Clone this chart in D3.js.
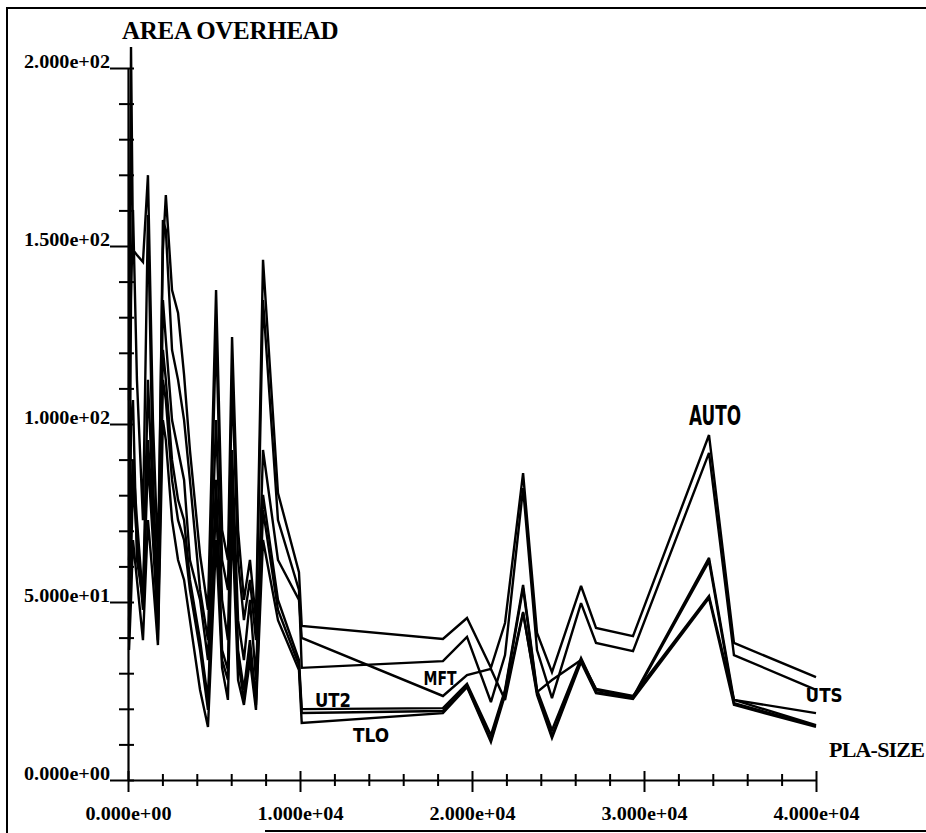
<!DOCTYPE html>
<html><head><meta charset="utf-8">
<script src="https://cdn.jsdelivr.net/npm/d3@7"></script>
<style>body{margin:0;background:#fff} svg{display:block}</style>
</head><body><svg id="c" width="926" height="833"></svg>
<script>
// ---- data ----
const plaSize = [60,175,290,520,870,1160,1450,1740,2030,2200,2560,2910,3260,3600,4190,4650,5120,5470,5810,6050,6400,6740,7090,7440,7850,8720,9940,
  10100,18310,19710,21100,21920,22970,23780,24650,26340,27210,29360,33780,35230,40000];
const AUTO = [106.7,205.9,148.9,147.5,145.5,169.9,101.1,61.8,148.9,164.3,137.6,131.2,113.8,92.7,63.2,47.8,137.6,70.2,61.8,124.4,70.2,50.6,61.8,44.9,146.1,80.6,58.4,
  43.3,39.6,45.5,31.5,44.1,86.2,41.3,30.3,54.5,42.7,40.4,96.9,38.5,28.9];
const UTS = [50.6,134.8,160.1,112.4,73.0,158.7,84.3,50.6,157.3,154.5,120.8,112.4,101.1,84.3,53.4,39.3,126.4,61.8,53.4,112.4,61.8,44.9,56.2,39.3,134.8,73.0,53.4,
  31.5,33.4,40.2,21.9,35.1,82.0,36.5,23.0,49.7,38.5,36.2,91.9,35.1,25.3];
const MFT = [39.3,101.1,106.7,61.8,50.6,112.4,78.7,39.3,134.8,123.6,101.1,92.7,84.3,61.8,50.6,33.7,101.1,50.6,39.3,92.7,44.9,33.7,50.6,28.1,92.7,61.8,50.6,
  39.9,23.6,29.5,31.2,22.5,46.9,24.7,28.1,33.7,25.6,23.6,51.7,22.5,18.8];
const UT2 = [61.8,78.7,89.9,73.0,50.6,95.5,73.0,44.9,120.8,112.4,89.9,78.7,73.0,56.2,39.3,22.5,84.3,36.5,30.9,84.3,36.5,25.3,39.3,22.5,80.1,50.6,33.7,
  19.9,20.2,27.0,12.6,25.3,54.8,25.3,14.0,34.3,25.3,23.3,62.4,22.5,15.4];
const UNLABELED = [44.9,61.8,84.3,67.4,47.8,89.9,67.4,42.1,112.4,106.7,84.3,73.0,67.4,53.4,36.5,19.7,78.7,33.7,28.1,78.7,33.7,22.5,36.5,21.1,75.8,47.8,32.3,
  18.8,19.4,26.4,11.2,24.7,53.9,24.7,12.4,33.7,24.7,23.0,61.5,21.6,15.2];
const TLO = [36.5,50.6,67.4,56.2,39.3,73.0,56.2,37.9,101.1,95.5,73.0,61.8,56.2,44.9,25.3,14.9,67.4,31.5,22.5,73.0,28.1,21.1,33.7,19.7,67.4,44.9,30.9,
  16.0,18.8,26.1,10.7,23.9,47.2,23.9,11.8,33.1,24.4,22.8,51.1,21.1,14.9];

const yTickValues = [0, 50, 100, 150, 200];
const yTickLabels = ["0.000e+00","5.000e+01","1.000e+02","1.500e+02","2.000e+02"];
const xTickValues = [0, 10000, 20000, 30000, 40000];
const xTickLabels = ["0.000e+00","1.000e+04","2.000e+04","3.000e+04","4.000e+04"];
const seriesNames = ["AUTO","UTS","MFT","UT2","TLO"];
const labelAnchors = [[34130,102.5],[40470,23.9],[18140,28.7],[11920,22.5],[14130,12.6]];

const series = [AUTO, UTS, MFT, UT2, UNLABELED, TLO];

// ---- drawing ----
const svg = d3.select("#c");
const x = d3.scaleLinear().domain([0, 40000]).range([128, 816]);
const y = d3.scaleLinear().domain([0, 200]).range([780, 68]);
const serif = "'Liberation Serif','DejaVu Serif',serif";
const narrow = "'Liberation Sans Narrow','DejaVu Sans Condensed',sans-serif";

// page frame (scan border)
svg.append("path").attr("d","M7,833 L7,8 L926,8").attr("fill","none").attr("stroke","#000").attr("stroke-width",2);
svg.append("line").attr("x1",265).attr("x2",926).attr("y1",831).attr("y2",831).attr("stroke","#000").attr("stroke-width",2);

// lines
const line = d3.line().x((d,i)=>x(plaSize[i])).y(d=>y(d));
svg.append("g").selectAll("path").data(series).join("path")
  .attr("d", d=>line(d)).attr("fill","none").attr("stroke","#000")
  .attr("stroke-width",2.4).attr("stroke-linejoin","miter").attr("stroke-miterlimit",3);

// y axis
const gy = svg.append("g").attr("transform",`translate(${x(0)},0)`);
gy.call(d3.axisLeft(y).tickValues(d3.range(0,201,10).filter(d=>d%50)).tickSize(9).tickFormat("").tickSizeOuter(0));
gy.selectAll(".tick line").attr("x1",6).attr("stroke-width",2);
gy.select(".domain").attr("stroke-width",2.2);
const gy2 = svg.append("g").attr("transform",`translate(${x(0)},0)`);
gy2.call(d3.axisLeft(y).tickValues(yTickValues).tickSize(18).tickPadding(0)
  .tickFormat((d,i)=>yTickLabels[i]).tickSizeOuter(0));
gy2.select(".domain").remove();
gy2.selectAll(".tick line").attr("x1",6).attr("stroke-width",2);
gy2.selectAll(".tick text").attr("x",-18).attr("dy","-1").attr("font-family",serif)
  .attr("font-weight","bold").attr("font-size",19).attr("fill","#000")
  .attr("textLength",86).attr("lengthAdjust","spacingAndGlyphs");

// x axis
const gx = svg.append("g").attr("transform",`translate(0,${y(0)})`);
gx.call(d3.axisBottom(x).tickValues(d3.range(0,40001,2000).filter(d=>d%10000)).tickSize(6).tickFormat("").tickSizeOuter(0));
gx.selectAll(".tick line").attr("y1",-6).attr("stroke-width",2);
gx.select(".domain").attr("stroke-width",2.2);
const gx2 = svg.append("g").attr("transform",`translate(0,${y(0)})`);
gx2.call(d3.axisBottom(x).tickValues(xTickValues).tickSize(12).tickFormat((d,i)=>xTickLabels[i]).tickSizeOuter(0));
gx2.select(".domain").remove();
gx2.selectAll(".tick line").attr("y1",-9).attr("stroke-width",2);
gx2.selectAll(".tick text").attr("y",40).attr("dy","0").attr("font-family",serif)
  .attr("font-weight","bold").attr("font-size",19).attr("fill","#000")
  .attr("textLength",86).attr("lengthAdjust","spacingAndGlyphs");

// titles
svg.append("text").attr("x",122).attr("y",39).text("AREA OVERHEAD")
  .attr("font-family",serif).attr("font-weight","bold").attr("font-size",25).attr("letter-spacing","-0.3");
svg.append("text").attr("x",829).attr("y",757).text("PLA-SIZE")
  .attr("font-family",serif).attr("font-weight","bold").attr("font-size",22).attr("letter-spacing","-0.8");

// series labels
const labelSize = [27,20,20,20,20];
const labelLen = [52,37,33,36,36];
svg.append("g").selectAll("text").data(seriesNames).join("text")
  .attr("x",(d,i)=>x(labelAnchors[i][0])).attr("y",(d,i)=>y(labelAnchors[i][1]))
  .attr("text-anchor","middle").attr("dominant-baseline","central")
  .attr("font-family",narrow).attr("font-weight","bold")
  .attr("font-size",(d,i)=>labelSize[i])
  .attr("textLength",(d,i)=>labelLen[i]).attr("lengthAdjust","spacingAndGlyphs")
  .text(d=>d);
</script></body></html>
